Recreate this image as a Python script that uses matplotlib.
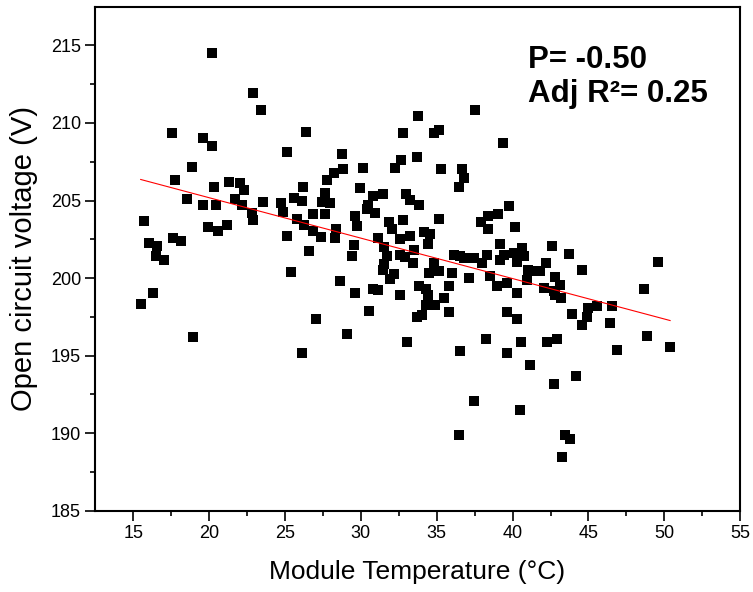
import numpy as np
import matplotlib
matplotlib.use("Agg")
import matplotlib.pyplot as plt

# --- DATOS ---
temp = [
    15.49, 15.73, 16.04, 16.32, 16.54, 16.50, 17.03, 17.53, 17.75, 17.60, 18.13, 18.52, 18.85, 18.94,
    19.62, 19.62, 19.95, 20.21, 20.21, 20.32, 20.43, 20.61, 21.20, 21.33, 21.71, 22.04, 22.30, 22.15,
    22.81, 22.92, 22.92,
    23.42, 23.54, 24.74, 24.85, 25.14, 25.14, 25.40, 25.58, 25.77, 26.10, 26.20, 26.28, 26.13, 26.40,
    26.58, 26.87, 26.87, 27.03,
    27.43, 27.64, 27.75, 27.64, 27.38, 27.97, 28.22, 28.37, 28.32, 28.63, 28.75, 28.85, 29.08, 29.40,
    29.56, 29.62, 29.73, 29.62, 29.95,
    30.13, 30.83, 31.45, 30.50, 30.94, 30.40, 30.56, 30.83, 31.10, 31.16, 31.55, 31.71, 31.52, 31.49,
    32.20, 31.93, 31.87, 32.02, 32.26, 32.66, 32.76, 32.77, 32.59, 32.59, 32.92, 32.55, 32.96,
    33.25, 33.80, 33.76, 33.67, 33.25, 33.52, 33.42, 33.05, 33.80, 34.31, 34.40, 34.30, 34.90, 34.02,
    33.67, 34.13, 34.57, 34.40, 34.79, 34.46, 35.12, 34.79, 35.15, 35.28, 35.16, 35.49, 35.78, 35.78,
    36.02, 36.11, 36.55, 36.77, 36.66, 36.77, 36.44, 36.55, 36.44, 37.15, 37.43, 37.54, 37.43, 37.89,
    37.98, 38.35, 38.40, 38.31, 38.48, 38.27, 38.97, 39.05, 39.19, 39.41, 39.19, 39.37, 39.63, 39.63,
    39.63, 39.74,
    40.07, 40.15, 40.31, 40.29, 40.31, 40.50, 40.55, 40.62, 40.73, 40.97, 41.03, 41.17, 41.28, 41.79,
    42.05, 42.22, 42.25, 42.58, 42.71, 42.82, 42.93, 42.73, 43.15, 43.20, 43.23, 43.48, 43.76, 43.73,
    43.92, 42.82,
    44.18, 44.58, 44.58, 44.94, 44.91, 45.57, 46.56, 46.45, 46.87, 48.64, 48.87, 49.55, 50.38,
]
voltaje = [
    198.31, 203.71, 202.29, 199.02, 202.05, 201.45, 201.19, 209.34, 206.31, 202.61, 202.42, 205.10, 207.13, 196.18,
    209.04, 204.74, 203.32, 214.53, 208.53, 205.90, 204.74, 203.02, 203.39, 206.20, 205.10, 206.10, 205.69, 204.74,
    204.20, 203.77, 211.92,
    210.81, 204.90, 204.85, 204.25, 208.10, 202.72, 200.42, 205.19, 203.80, 204.95, 205.88, 203.40, 195.17, 209.41,
    201.75, 204.10, 203.02, 197.37,
    204.92, 205.50, 206.31, 204.10, 202.65, 204.85, 206.76, 203.18, 202.56, 199.79, 208.01, 207.00, 196.40, 201.40,
    202.14, 203.99, 203.34, 199.02, 205.79,
    207.12, 205.26, 205.39, 204.74, 204.20, 204.45, 197.90, 199.30, 199.21, 202.59, 202.02, 201.41, 200.92, 200.55,
    200.26, 199.92, 203.60, 203.15, 207.11, 207.60, 209.32, 203.72, 202.55, 201.52, 201.35, 198.89, 205.39,
    205.04, 204.74, 210.44, 207.82, 202.70, 201.84, 200.98, 195.88, 199.47, 199.30, 198.88, 198.29, 198.29, 197.65,
    197.48, 202.97, 202.87, 202.21, 200.98, 200.33, 200.44, 209.34, 209.52, 207.00, 203.80, 198.69, 199.50, 197.79,
    200.33, 201.52, 201.41, 201.30, 207.03, 206.46, 205.90, 195.28, 189.86, 200.00, 201.30, 210.80, 192.10, 203.63,
    200.98, 203.97, 203.15, 201.50, 200.12, 196.09, 199.47, 204.10, 202.20, 201.52, 201.19, 208.72, 199.69, 197.79,
    195.19, 204.63,
    201.63, 203.30, 199.05, 201.03, 197.38, 191.50, 195.88, 201.95, 201.41, 199.85, 200.55, 194.41, 200.44, 200.44,
    199.37, 200.98, 195.88, 202.10, 199.15, 200.05, 196.09, 193.19, 199.58, 198.72, 188.48, 189.88, 189.66, 201.58,
    197.69, 198.94,
    193.66, 200.55, 197.00, 198.08, 197.48, 198.18, 198.20, 197.09, 195.39, 199.30, 196.29, 201.02, 195.56,
]

# Ajuste lineal mostrado en la figura
pendiente = -0.2605
intercepto = 210.39
texto_p = "P= -0.50"
texto_r2 = "Adj R\u00b2= 0.25"

x_ticks = [15, 20, 25, 30, 35, 40, 45, 50, 55]
y_ticks = [185, 190, 195, 200, 205, 210, 215]

plt.rcParams['font.family'] = ['Liberation Sans', 'DejaVu Sans']

fig = plt.figure(figsize=(7.53, 5.92), dpi=100)
ax = fig.add_axes([0.126, 0.137, 0.857, 0.852])

ax.scatter(temp, voltaje, marker='s', s=52, c='black', linewidths=0, zorder=2)

x_fit = np.array([min(temp), max(temp)])
ax.plot(x_fit, intercepto + pendiente * x_fit, color='red', linewidth=0.8, zorder=3)

ax.set_xlim(12.47, 55)
ax.set_ylim(185, 217.5)
ax.set_xticks(x_ticks)
ax.set_yticks(y_ticks)
ax.set_xticks(np.arange(17.5, 55, 5), minor=True)
ax.set_yticks(np.arange(187.5, 217.5, 5), minor=True)
ax.tick_params(which='major', direction='out', length=7, width=1.2, labelsize=13, pad=3)
ax.tick_params(which='minor', direction='out', length=3.5, width=1.2)
for sp in ax.spines.values():
    sp.set_linewidth(1.5)

ax.set_xlabel("Module Temperature (\u00b0C)", fontsize=19, labelpad=13)
ax.set_ylabel("Open circuit voltage (V)", fontsize=21, labelpad=9)

# textos en pixeles de la figura (origen arriba a la izquierda)
W, H = 753.0, 592.0
fig.text(528 / W, 1 - 68 / H, texto_p, fontsize=22.5, fontweight='bold', va='baseline')
fig.text(528 / W, 1 - 102 / H, texto_r2, fontsize=22.5, fontweight='bold', va='baseline')

fig.savefig("out.png", dpi=100)
plt.close()
